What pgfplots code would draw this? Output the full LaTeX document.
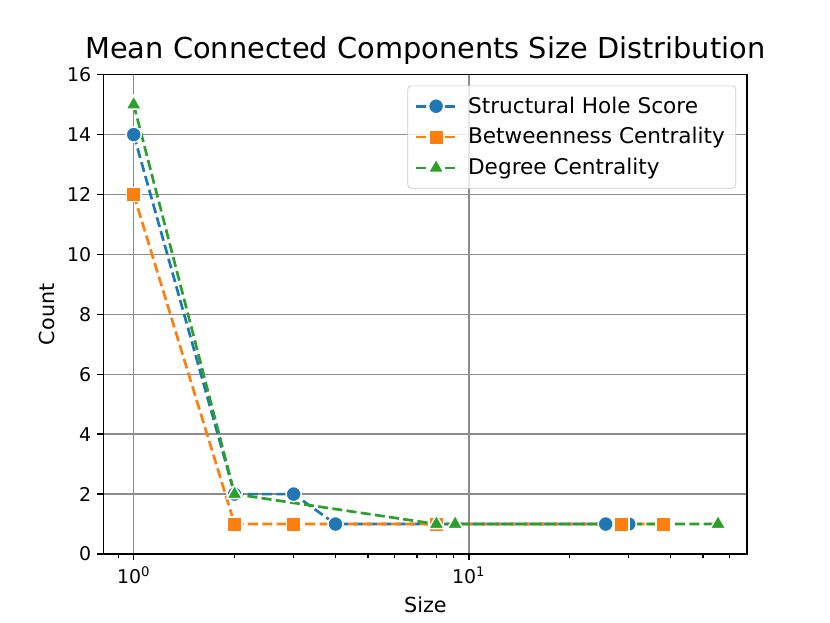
\documentclass[border=0pt]{standalone}
\usepackage{pgfplots}
\pgfplotsset{compat=1.18}
\usepackage{fontspec}
\setmainfont{DejaVu Sans}

\definecolor{tabblue}{HTML}{1F77B4}
\definecolor{taborange}{HTML}{FF7F0E}
\definecolor{tabgreen}{HTML}{2CA02C}

\begin{document}
\begin{tikzpicture}
    % figure is 460.8pt x 345.6pt, axis box as in matplotlib defaults
    \useasboundingbox (-57.6pt,-38.02pt) rectangle (403.2pt,307.58pt);
    \begin{axis}[
        at={(0pt,0pt)}, anchor=south west,
        scale only axis, width=357.12pt, height=266.11pt,
        xmode=log,
        xmin=0.814, xmax=67.6,
        ymin=0, ymax=16,
        xtick={1,10},
        xticklabels={10\textsuperscript{0},10\textsuperscript{1}},
        minor xtick={0.9,2,3,4,5,6,7,8,9,20,30,40,50,60},
        ytick={0,2,...,16},
        /pgf/number format/assume math mode=true,
        tick align=outside,
        major tick length=3.5pt, minor tick length=2pt,
        tick style={black, line width=0.8pt},
        axis line style={line width=0.8pt},
        xtick pos=bottom, ytick pos=left,
        grid=major,
        major grid style={black!45, line width=0.8pt},
        ticklabel style={font=\fontsize{10.5}{12}\selectfont},
        xlabel={Size}, ylabel={Count},
        label style={font=\fontsize{11.5}{13}\selectfont},
        title={Mean Connected Components Size Distribution},
        title style={font=\fontsize{16}{19}\selectfont, at={(0.5,1)}, anchor=south, yshift=-4pt},
        legend style={at={(1,1)}, anchor=north east, xshift=-6pt, yshift=-6pt,
            draw=black!20, rounded corners=2pt, fill=white, fill opacity=0.8,
            text opacity=1, font=\fontsize{12}{14}\selectfont,
            inner sep=4pt, row sep=2.5pt, column sep=4pt},
        legend cell align=left,
        legend image code/.code={
            \draw[fill opacity=1, draw opacity=1, mark repeat=2, mark phase=2]
                plot coordinates {(0pt,0pt) (11pt,0pt) (22pt,0pt)};},
        every axis plot/.append style={line width=1.5pt, dash pattern=on 5.55pt off 2.4pt},
    ]
        \addplot[tabblue, mark=*, mark size=4.2pt,
            mark options={solid, fill=tabblue, draw=white, line width=0.8pt}]
            coordinates {(1,14) (2,2) (3,2) (4,1) (25.6,1) (30,1)};
        \addlegendentry{Structural Hole Score}
        \addplot[taborange, mark=square*, mark size=4pt,
            mark options={solid, fill=taborange, draw=white, line width=0.8pt}]
            coordinates {(1,12) (2,1) (3,1) (8,1) (28.6,1) (38,1)};
        \addlegendentry{Betweenness Centrality}
        \addplot[tabgreen, mark=triangle*, mark size=5pt,
            mark options={solid, fill=tabgreen, draw=white, line width=0.8pt}]
            coordinates {(1,15) (2,2) (8,1) (9.1,1) (55.4,1)};
        \addlegendentry{Degree Centrality}
    \end{axis}
\end{tikzpicture}
\end{document}
